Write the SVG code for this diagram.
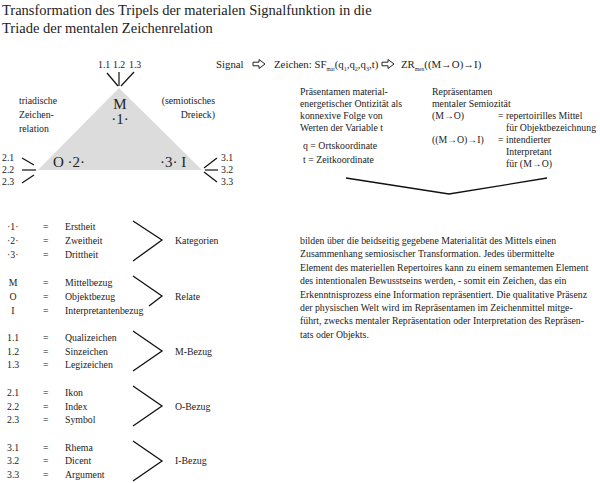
<svg xmlns="http://www.w3.org/2000/svg" width="600" height="483" viewBox="0 0 600 483">
<defs>
<style>
text{font-family:"Liberation Serif","Times New Roman",serif;fill:#222}
.t{font-size:14.5px}
.s{font-size:9.8px}
.m{font-size:10.8px}
.b{font-size:15px}
.ln{stroke:#111;stroke-width:1.2;fill:none}
.ch{stroke:#111;stroke-width:1.3;fill:none}
.ar{stroke:#222;stroke-width:1;fill:#fff}
</style>
<path id="harr" d="M0,-1.8 L6,-1.8 L6,-4.5 L12,0 L6,4.5 L6,1.8 L0,1.8 Z"/>
</defs>
<rect width="600" height="483" fill="#fff"/>

<g id="title">
<text class="t" x="2" y="15">Transformation des Tripels der materialen Signalfunktion in die</text>
<text class="t" x="2" y="33">Triade der mentalen Zeichenrelation</text>
</g>

<g id="triangle">
<polygon points="119,88 38,170 202,170" fill="#dcdcdc"/>
<text class="b" x="120" y="109" text-anchor="middle">M</text>
<text class="b" x="120" y="124" text-anchor="middle">·1·</text>
<text class="b" x="53" y="167">O ·2·</text>
<text class="b" x="160" y="167">·3· I</text>
</g>

<g id="labels-triangle">
<text class="s" x="98" y="68">1.1</text>
<text class="s" x="113" y="68">1.2</text>
<text class="s" x="129" y="68">1.3</text>
<text class="s" x="19" y="104">triadische</text>
<text class="s" x="19" y="118">Zeichen-</text>
<text class="s" x="19" y="132">relation</text>
<text class="s" x="215" y="104" text-anchor="end">(semiotisches</text>
<text class="s" x="215" y="118" text-anchor="end">Dreieck)</text>
<text class="s" x="2" y="161">2.1</text>
<text class="s" x="2" y="173">2.2</text>
<text class="s" x="2" y="185">2.3</text>
<text class="s" x="221" y="161">3.1</text>
<text class="s" x="221" y="173">3.2</text>
<text class="s" x="221" y="185">3.3</text>
</g>

<g id="connectors">
<line class="ln" x1="107" y1="73" x2="118" y2="86"/>
<line class="ln" x1="119" y1="72" x2="119" y2="86"/>
<line class="ln" x1="134" y1="72" x2="121" y2="86"/>
<line class="ln" x1="22" y1="158" x2="34" y2="165"/>
<line class="ln" x1="22" y1="170" x2="36" y2="170"/>
<line class="ln" x1="22" y1="183" x2="34" y2="175"/>
<line class="ln" x1="204" y1="168" x2="217" y2="158"/>
<line class="ln" x1="205" y1="170" x2="218" y2="170"/>
<line class="ln" x1="204" y1="172" x2="217" y2="182"/>
<polyline class="ch" points="346,178 449,194 547,178"/>
<polyline class="ch" points="133,221 162,240 133,261"/>
<polyline class="ch" points="133,276 162,296 149,306"/>
<polyline class="ch" points="133,331 162,351 133,371"/>
<polyline class="ch" points="133,386 162,406 133,426"/>
<polyline class="ch" points="133,441 162,461 133,481"/>
</g>

<g id="signal-line">
<text class="m" x="216" y="68">Signal</text>
<use href="#harr" class="ar" x="253" y="64"/>
<text class="m" x="274" y="68">Zeichen: SF<tspan font-size="5.5" dy="2.5">mat</tspan><tspan dy="-2.5">(q</tspan><tspan font-size="6" dy="2.5">1</tspan><tspan dy="-2.5">,q</tspan><tspan font-size="6" dy="2.5">2</tspan><tspan dy="-2.5">,q</tspan><tspan font-size="6" dy="2.5">3</tspan><tspan dy="-2.5">,t)</tspan></text>
<use href="#harr" class="ar" x="382" y="64"/>
<text class="m" x="401" y="68">ZR<tspan font-size="5.5" dy="2.5">men</tspan><tspan dy="-2.5">((M→O)→I)</tspan></text>
</g>

<g id="praesentamen">
<text class="s" x="300" y="95">Präsentamen material-</text>
<text class="s" x="300" y="107">energetischer Ontizität als</text>
<text class="s" x="300" y="119">konnexive Folge von</text>
<text class="s" x="300" y="131">Werten der Variable t</text>
<text class="s" x="303" y="149">q = Ortskoordinate</text>
<text class="s" x="303" y="163">t  = Zeitkoordinate</text>
</g>

<g id="repraesentamen">
<text class="s" x="432" y="95">Repräsentamen</text>
<text class="s" x="432" y="107">mentaler Semiozität</text>
<text class="s" x="432" y="119">(M→O)</text>
<text class="s" x="498" y="119">= repertoirilles Mittel</text>
<text class="s" x="506" y="131">für Objektbezeichnung</text>
<text class="s" x="432" y="143">((M→O)→I)</text>
<text class="s" x="498" y="143">= intendierter</text>
<text class="s" x="506" y="155">Interpretant</text>
<text class="s" x="506" y="167">für (M→O)</text>
</g>

<g id="kategorien">
<text class="s" x="7" y="230">·1·</text><text class="s" x="43" y="230">=</text><text class="s" x="65" y="230">Erstheit</text>
<text class="s" x="7" y="244">·2·</text><text class="s" x="43" y="244">=</text><text class="s" x="65" y="244">Zweitheit</text>
<text class="s" x="7" y="258">·3·</text><text class="s" x="43" y="258">=</text><text class="s" x="65" y="258">Drittheit</text>
<text class="s" x="175" y="244">Kategorien</text>
</g>

<g id="relate">
<text class="s" x="13" y="286" text-anchor="middle">M</text><text class="s" x="43" y="286">=</text><text class="s" x="65" y="286">Mittelbezug</text>
<text class="s" x="13" y="300" text-anchor="middle">O</text><text class="s" x="43" y="300">=</text><text class="s" x="65" y="300">Objektbezug</text>
<text class="s" x="13" y="314" text-anchor="middle">I</text><text class="s" x="43" y="314">=</text><text class="s" x="65" y="314">Interpretantenbezug</text>
<text class="s" x="175" y="300">Relate</text>
</g>

<g id="m-bezug">
<text class="s" x="7" y="341">1.1</text><text class="s" x="43" y="341">=</text><text class="s" x="65" y="341">Qualizeichen</text>
<text class="s" x="7" y="355">1.2</text><text class="s" x="43" y="355">=</text><text class="s" x="65" y="355">Sinzeichen</text>
<text class="s" x="7" y="368">1.3</text><text class="s" x="43" y="368">=</text><text class="s" x="65" y="368">Legizeichen</text>
<text class="s" x="175" y="355">M-Bezug</text>
</g>

<g id="o-bezug">
<text class="s" x="7" y="396">2.1</text><text class="s" x="43" y="396">=</text><text class="s" x="65" y="396">Ikon</text>
<text class="s" x="7" y="410">2.2</text><text class="s" x="43" y="410">=</text><text class="s" x="65" y="410">Index</text>
<text class="s" x="7" y="423">2.3</text><text class="s" x="43" y="423">=</text><text class="s" x="65" y="423">Symbol</text>
<text class="s" x="175" y="410">O-Bezug</text>
</g>

<g id="i-bezug">
<text class="s" x="7" y="451">3.1</text><text class="s" x="43" y="451">=</text><text class="s" x="65" y="451">Rhema</text>
<text class="s" x="7" y="464">3.2</text><text class="s" x="43" y="464">=</text><text class="s" x="65" y="464">Dicent</text>
<text class="s" x="7" y="478">3.3</text><text class="s" x="43" y="478">=</text><text class="s" x="65" y="478">Argument</text>
<text class="s" x="175" y="464">I-Bezug</text>
</g>

<g id="paragraph">
<text class="s" x="300" y="244">bilden über die beidseitig gegebene Materialität des Mittels einen</text>
<text class="s" x="300" y="257.4">Zusammenhang semiosischer Transformation. Jedes übermittelte</text>
<text class="s" x="300" y="270.8">Element des materiellen Repertoires kann zu einem semantemen Element</text>
<text class="s" x="300" y="284.2">des intentionalen Bewusstseins werden,  - somit ein Zeichen, das ein</text>
<text class="s" x="300" y="297.6">Erkenntnisprozess eine Information repräsentiert. Die qualitative Präsenz</text>
<text class="s" x="300" y="311">der physischen Welt wird im Repräsentamen im Zeichenmittel mitge-</text>
<text class="s" x="300" y="324.4">führt, zwecks mentaler Repräsentation oder Interpretation des Repräsen-</text>
<text class="s" x="300" y="337.8">tats oder Objekts.</text>
</g>
</svg>
